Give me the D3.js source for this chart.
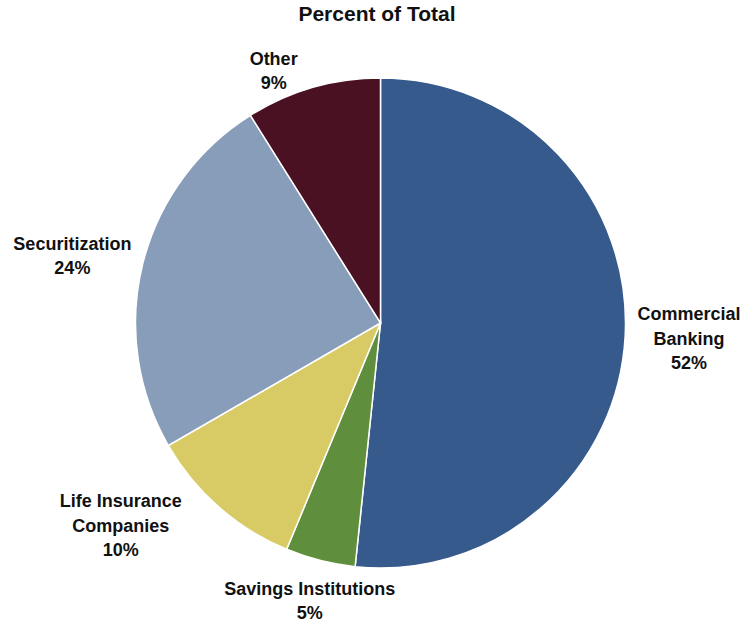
<!DOCTYPE html>
<html lang="en">
<head>
<meta charset="UTF-8">
<title>Percent of Total</title>
<script src="https://d3js.org/d3.v7.min.js"></script>
<style>
  body { margin: 0; background: #fff; font-family: "Liberation Sans", Arial, sans-serif; }
  text { font-weight: bold; fill: #111; }
</style>
</head>
<body>
<div id="chart"></div>
<script>
// data
const categories = ["Commercial Banking", "Savings Institutions", "Life Insurance Companies", "Securitization", "Other"];
const values = [51.6, 4.6, 10.4, 24.4, 8.9];
const shownPct = ["52%", "5%", "10%", "24%", "9%"];
const labelLines = [["Commercial", "Banking"], ["Savings Institutions"], ["Life Insurance", "Companies"], ["Securitization"], ["Other"]];
const colors = ["#365A8C", "#5F8F3D", "#D8CB66", "#879DBA", "#4A1123"];

const width = 746, height = 623;
const cx = 380.5, cy = 323, radius = 245;

// nudges for each label from its outer centroid
const labelNudge = [[9, 0], [3, -13], [-62, -23], [-17, 5], [-24, 36]];

const svg = d3.select("#chart").append("svg")
    .attr("width", width)
    .attr("height", height);

svg.append("text")
    .attr("x", 377)
    .attr("y", 21)
    .attr("text-anchor", "middle")
    .style("font-size", "21px")
    .text("Percent of Total");

const g = svg.append("g").attr("transform", `translate(${cx},${cy})`);

const pie = d3.pie().sort(null).value(d => d);
const arcs = pie(values);

const arc = d3.arc().innerRadius(0).outerRadius(radius);
const labelArc = d3.arc().innerRadius(300).outerRadius(300);

g.selectAll("path")
    .data(arcs)
    .enter().append("path")
    .attr("d", arc)
    .attr("fill", (d, i) => colors[i])
    .attr("stroke", "#fff")
    .attr("stroke-width", 1.5);

const lineH = 24.5;
arcs.forEach((d, i) => {
    const c = labelArc.centroid(d);
    const lines = labelLines[i].concat([shownPct[i]]);
    const x = c[0] + labelNudge[i][0];
    const y = c[1] + labelNudge[i][1] - (lines.length - 1) * lineH / 2;
    const t = g.append("text")
        .attr("text-anchor", "middle")
        .style("font-size", "18px");
    lines.forEach((s, k) => {
        t.append("tspan")
            .attr("x", x)
            .attr("y", y + k * lineH)
            .attr("dy", "0.35em")
            .text(s);
    });
});
</script>
</body>
</html>
